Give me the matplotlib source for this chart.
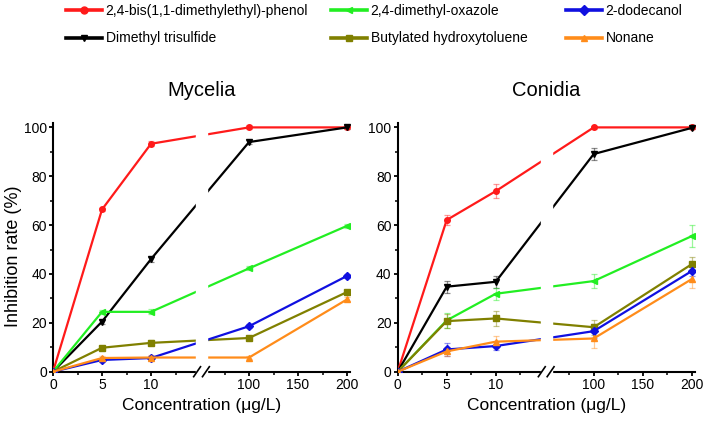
import matplotlib
matplotlib.use("Agg")
import matplotlib.pyplot as plt
import matplotlib.transforms as mtransforms
from matplotlib.lines import Line2D

plt.rcParams['font.family'] = ['Liberation Sans', 'DejaVu Sans']

# ---------------- data ----------------
conc = [0, 5, 10, 100, 200]
names = ["2,4-bis(1,1-dimethylethyl)-phenol", "Dimethyl trisulfide", "2,4-dimethyl-oxazole",
         "Butylated hydroxytoluene", "2-dodecanol", "Nonane"]
colors = ["#ff1a1a", "#000000", "#22ee22", "#808000", "#1010e0", "#ff8c1a"]
markers = ["o", "v", "<", "s", "D", "^"]

myc_phenol = [0, 66.4, 93.3, 100, 100]
myc_trisulfide = [0, 20.5, 46.1, 94.0, 100]
myc_oxazole = [0, 24.5, 24.5, 42.3, 59.7]
myc_bht = [0, 9.8, 11.8, 13.8, 32.6]
myc_dodecanol = [0, 4.8, 5.6, 18.6, 39.2]
myc_nonane = [0, 5.6, 5.8, 5.8, 29.6]
myc_err = [0, 0.8, 1.0, 0.8, 0.8]

con_phenol = [0, 62.1, 73.9, 100, 100]
con_trisulfide = [0, 34.8, 36.8, 89.1, 99.8]
con_oxazole = [0, 21.0, 31.9, 37.1, 55.5]
con_bht = [0, 20.7, 21.8, 18.2, 44.0]
con_dodecanol = [0, 9.1, 10.5, 16.6, 41.2]
con_nonane = [0, 8.3, 12.3, 13.6, 37.9]

con_phenol_err = [0, 2.0, 3.0, 0.5, 0.5]
con_trisulfide_err = [0, 2.5, 2.5, 2.5, 0.5]
con_oxazole_err = [0, 3.0, 2.5, 3.0, 4.5]
con_bht_err = [0, 3.0, 3.0, 3.0, 3.0]
con_dodecanol_err = [0, 2.5, 1.5, 3.0, 2.0]
con_nonane_err = [0, 2.0, 2.5, 4.0, 3.5]

tick_vals = [0, 5, 10, 100, 150, 200]


def to_u(x):
    # broken axis: 0-10 linear, 100-200 compressed 10x
    return x if x <= 10 else 20 + (x - 100) / 10.0


def draw_panel(ax, series, errors, title):
    u = [to_u(c) for c in conc]
    for y, e, col, mk in zip(series, errors, colors, markers):
        eb = ax.errorbar(u, y, yerr=e, color=col, marker=mk, markersize=4, lw=1.6,
                         ecolor=col, elinewidth=0.9, capsize=2.2, capthick=0.9,
                         zorder=3)
        for cap in eb[1]:
            cap.set_alpha(0.45)
        for bar in eb[2]:
            bar.set_alpha(0.45)

    ax.set_xlim(0, 30.3)
    ax.set_ylim(0, 101.8)
    ax.set_xticks([to_u(t) for t in tick_vals])
    ax.set_xticklabels([str(t) for t in tick_vals])
    ax.set_xticks([2.5, 7.5, 12.5, 17.5, 22.5, 27.5], minor=True)
    ax.set_yticks(range(0, 101, 20))
    ax.set_yticks(range(10, 100, 20), minor=True)
    ax.tick_params(labelsize=10, width=1.3, length=3, direction="out", pad=1.5)
    ax.tick_params(which="minor", width=1.1, length=2, direction="out")
    for s in ["top", "right"]:
        ax.spines[s].set_visible(False)
    for s in ["left", "bottom"]:
        ax.spines[s].set_linewidth(1.5)

    # axis break
    ax.axvspan(14.6, 15.7, ymin=-0.03, ymax=1, color="white", zorder=5, clip_on=False)
    tr = mtransforms.blended_transform_factory(ax.transData, ax.transAxes)
    for xb in [14.7, 15.6]:
        ax.plot([xb - 0.35, xb + 0.35], [-0.02, 0.02], color="black", lw=1.2,
                transform=tr, clip_on=False, zorder=6)

    ax.set_xlabel("Concentration (\u03bcg/L)", fontsize=12.5)
    ax.xaxis.set_label_coords(0.5, -0.105)
    ax.text(0.5, 1.109, title, transform=ax.transAxes, ha="center", va="baseline",
            fontsize=14.5)


fig = plt.figure(figsize=(7.08, 4.24), dpi=100)
ax1 = fig.add_axes([53 / 708, 52.3 / 424, 297 / 708, 248.7 / 424])
ax2 = fig.add_axes([397.7 / 708, 52.3 / 424, 297 / 708, 248.7 / 424])

draw_panel(ax1, [myc_phenol, myc_trisulfide, myc_oxazole, myc_bht, myc_dodecanol, myc_nonane],
           [myc_err] * 6, "Mycelia")
draw_panel(ax2, [con_phenol, con_trisulfide, con_oxazole, con_bht, con_dodecanol, con_nonane],
           [con_phenol_err, con_trisulfide_err, con_oxazole_err, con_bht_err,
            con_dodecanol_err, con_nonane_err], "Conidia")
ax1.set_ylabel("Inhibition rate (%)", fontsize=13)
ax1.yaxis.set_label_coords(-0.105, 0.465)

# -------- legend: three columns placed by hand --------
handles = [Line2D([], [], color=c, marker=m, lw=2.6, markersize=5) for c, m in zip(colors, markers)]
col_x = [66 / 708, 331 / 708, 566 / 708]
for i, x in enumerate(col_x):
    fig.legend(handles[2 * i:2 * i + 2], names[2 * i:2 * i + 2], loc="upper left",
               bbox_to_anchor=(x, 0.99), frameon=False, fontsize=10,
               handlelength=2.6, handletextpad=0.25, labelspacing=0.95,
               borderpad=0, borderaxespad=0)

fig.savefig("out.png", dpi=100)
